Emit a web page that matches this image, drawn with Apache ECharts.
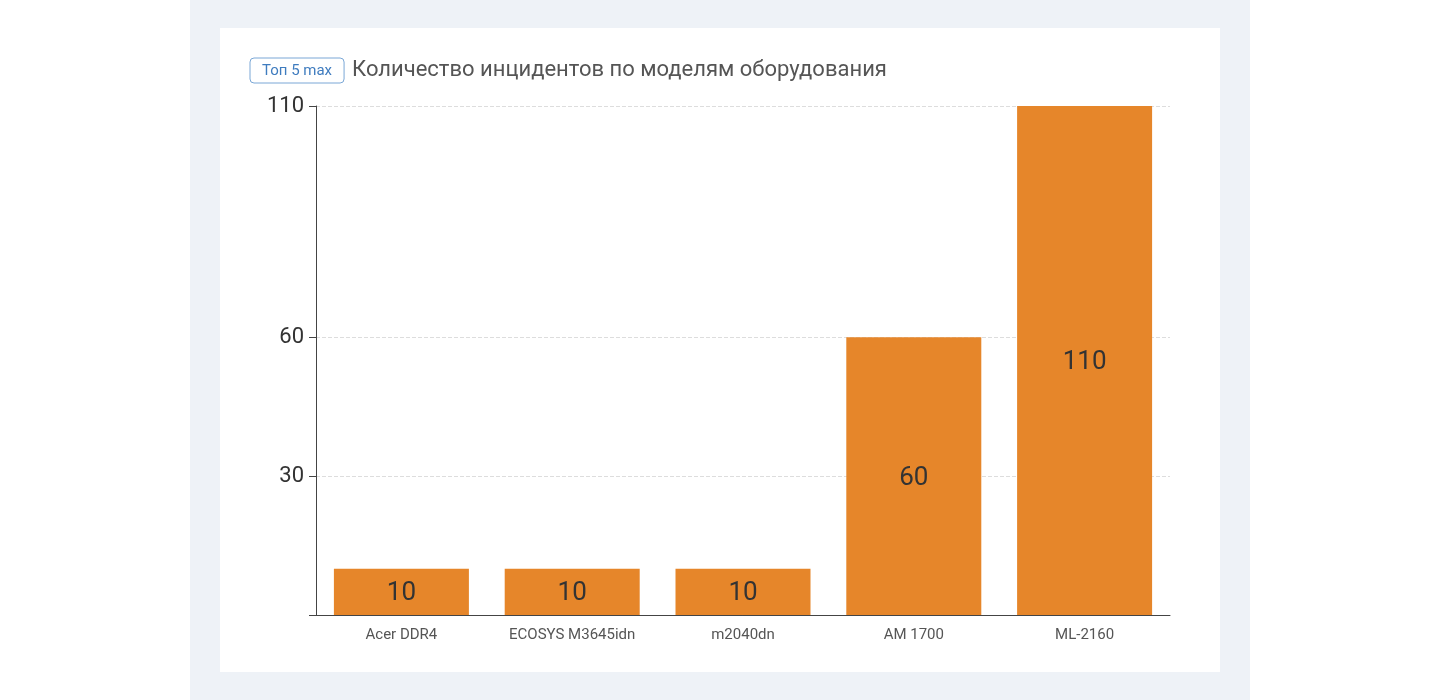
<!DOCTYPE html>
<html lang="ru">
<head>
    <meta charset="UTF-8">
    <title>Инциденты по моделям</title>
    <script src="https://cdn.jsdelivr.net/npm/echarts@6/dist/echarts.min.js"></script>
    <style>
        html, body { margin: 0; padding: 0; background: #fff; }
        #panel { position: absolute; left: 190px; top: 0; width: 1060px; height: 700px; background: #eef2f7; }
        #card { position: absolute; left: 30px; top: 28px; width: 1000px; height: 644px; background: #fff; }
        #main { width: 1000px; height: 644px; }
    </style>
</head>
<body>
<div id="panel">
    <div id="card">
        <div id="main"></div>
    </div>
</div>

<script type="text/javascript">
    // данные
    var models = ['Acer DDR4', 'ECOSYS M3645idn', 'm2040dn', 'AM 1700', 'ML-2160'];
    var incidents = [10, 10, 10, 60, 110];
    var yTicks = [0, 30, 60, 110];
    var yLabels = [30, 60, 110];

    var myChart = echarts.init(document.getElementById('main'));

    myChart.setOption({
        textStyle: { fontFamily: 'Roboto' },
        title: {
            left: 25,
            top: 25,
            text: '{badge|Топ 5 max}{gap|}{t|Количество инцидентов по моделям оборудования}',
            textStyle: {
                rich: {
                    badge: {
                        fontSize: 15,
                        fontWeight: 'normal',
                        color: '#3f7cbf',
                        borderColor: '#7aa7d6',
                        borderWidth: 1,
                        borderRadius: 4,
                        padding: [6, 12, 4, 12],
                        fontFamily: 'Roboto'
                    },
                    gap: { width: 8 },
                    t: {
                        fontSize: 22,
                        fontWeight: 'normal',
                        color: '#555',
                        fontFamily: 'Roboto'
                    }
                }
            }
        },
        grid: { left: 96, right: 50, top: 78, bottom: 57 },
        xAxis: {
            type: 'category',
            data: models,
            axisLine: { lineStyle: { color: '#444' } },
            axisTick: { alignWithLabel: true, lineStyle: { color: '#444' } },
            axisLabel: { interval: 0, fontSize: 15, color: '#555', margin: 13 }
        },
        yAxis: {
            type: 'value',
            min: 0,
            max: 110,
            axisLine: { show: true, lineStyle: { color: '#444' } },
            axisTick: { show: true, customValues: yTicks, length: 7, lineStyle: { color: '#444' } },
            axisLabel: { customValues: yLabels, fontSize: 22, color: '#333', margin: 12 },
            splitLine: { show: true, lineStyle: { type: 'dashed', color: '#ddd' } }
        },
        series: [{
            type: 'bar',
            data: incidents,
            barWidth: 135,
            itemStyle: { color: '#e6862a' },
            label: { show: true, position: 'inside', offset: [0, 2], fontSize: 26, color: '#333' }
        }]
    });
</script>
</body>
</html>
